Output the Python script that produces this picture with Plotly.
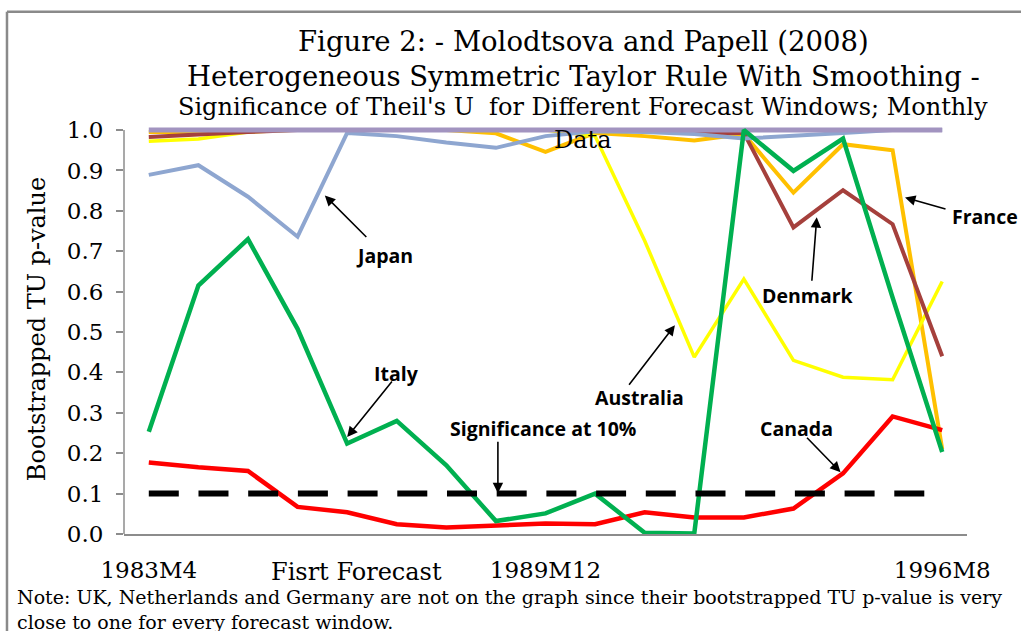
import plotly.graph_objects as go

categories = ["1983M4", "1984M2", "1984M12", "1985M10", "1986M8", "1987M6", "1988M4",
              "1989M2", "1989M12", "1990M10", "1991M8", "1992M6", "1993M4", "1994M2",
              "1994M12", "1995M10", "1996M8"]
tick_labels = ["1983M4", "1989M12", "1996M8"]

france = [0.995, 0.995, 1.0, 1.0, 1.0, 1.0, 1.0, 0.992, 0.946, 0.993, 0.985, 0.974,
          0.99, 0.845, 0.965, 0.950, 0.21]
australia = [0.972, 0.978, 0.995, 1.0, 1.0, 1.0, 1.0, 1.0, 1.0, 0.985, 0.726, 0.438,
             0.631, 0.43, 0.388, 0.382, 0.625]
denmark = [0.983, 0.99, 0.995, 1.0, 1.0, 1.0, 1.0, 1.0, 1.0, 1.0, 1.0, 0.993,
           0.993, 0.759, 0.851, 0.767, 0.44]
japan = [0.889, 0.913, 0.835, 0.736, 0.993, 0.985, 0.969, 0.956, 0.985, 0.997, 0.995,
         0.99, 0.979, 0.985, 0.993, 1.0, 1.0]
other = [1.0] * 17
canada = [0.177, 0.165, 0.156, 0.067, 0.054, 0.024, 0.016, 0.020, 0.026, 0.024, 0.054,
          0.041, 0.041, 0.063, 0.150, 0.291, 0.257]
italy = [0.253, 0.615, 0.730, 0.508, 0.224, 0.280, 0.170, 0.032, 0.051, 0.100, 0.003,
         0.001, 1.0, 0.899, 0.979, 0.585, 0.203]
significance = [0.1] * 17

SERIF = "DejaVu Serif"
SANS = "Open Sans"

series = [
    ("France", france, "#FFC000", 4),
    ("Australia", australia, "#FFFF00", 3.5),
    ("Denmark", denmark, "#A5403C", 4),
    ("Japan", japan, "#8EA6D0", 4),
    ("Other", other, "#A294C0", 5),
    ("Canada", canada, "#FF0000", 4.5),
    ("Italy", italy, "#00B050", 4.5),
]

fig = go.Figure()
for name, vals, color, w in series:
    fig.add_trace(go.Scatter(x=categories, y=vals, mode="lines", name=name,
                             line=dict(color=color, width=w)))
fig.add_trace(go.Scatter(x=categories, y=significance, mode="lines",
                         name="Significance at 10%",
                         line=dict(color="black", width=6, dash="30px,19.7px")))

# text labels (data coords: category index, value)
labels = [
    ("Japan", 4.76, 0.690),
    ("Italy", 5.0, 0.398),
    ("Significance at 10%", 7.95, 0.260),
    ("Australia", 9.90, 0.339),
    ("Canada", 13.07, 0.260),
    ("Denmark", 13.29, 0.591),
]
for t, x, y in labels:
    fig.add_annotation(x=x, y=y, xref="x", yref="y", text="<b>%s</b>" % t,
                       xanchor="center", yanchor="middle",
                       showarrow=False, font=dict(family=SANS, size=19.5, color="black"))
fig.add_annotation(x=1.021, y=0.775, xref="paper", yref="paper", text="<b>France</b>",
                   xanchor="center", yanchor="middle",
                   showarrow=False, font=dict(family=SANS, size=19.5, color="black"))

# arrows: head (x, y in data) and tail offsets in px
arrows = [
    (3.55, 0.838, 43, 43),
    (4.0, 0.240, 46, -57),
    (7.04, 0.101, 0, -53),
    (10.61, 0.517, -47, 61),
    (13.95, 0.153, -35, -36),
    (13.47, 0.784, -5, 65),
    (15.25, 0.833, 42, 12),
]
for x, y, ax, ay in arrows:
    fig.add_annotation(x=x, y=y, xref="x", yref="y", ax=ax, ay=ay, text="",
                       showarrow=True, arrowhead=2, arrowsize=1.3, arrowwidth=1.6,
                       arrowcolor="black")

def paper_text(text, x, y, size, **kw):
    fig.add_annotation(x=x, y=y, xref="paper", yref="paper", showarrow=False,
                       text=text, xanchor=kw.get("xanchor", "center"),
                       yanchor=kw.get("yanchor", "middle"), align=kw.get("align", "center"),
                       font=dict(family=SERIF, size=size, color="black"))

# titles
paper_text("Figure 2: - Molodtsova and Papell (2008)", 0.5445, 1.203, 27.5)
paper_text("Heterogeneous Symmetric Taylor Rule With Smoothing -", 0.5445, 1.116, 27.5)
paper_text("Significance of Theil's U  for Different Forecast Windows; Monthly",
           0.5445, 1.042, 24)
paper_text("Data", 0.5445, 0.960, 24)

# x-axis title
paper_text("Fisrt Forecast", 0.276, -0.0926, 24)

# note
paper_text("Note: UK, Netherlands and Germany are not on the graph since their "
           "bootstrapped TU p-value is very<br>close to one for every forecast window.",
           -0.1293, -0.121, 19, xanchor="left", yanchor="top", align="left")

# y axis line up to 1.0 and chart frame
fig.add_shape(type="line", xref="paper", yref="y", x0=0, x1=0, y0=0, y1=1.0,
              line=dict(color="#8C8C8C", width=1.5))
fig.add_shape(type="line", xref="paper", yref="paper", x0=-0.1388, x1=-0.1388,
              y0=-0.3, y1=1.274, line=dict(color="#8A8A8A", width=2.5))
fig.add_shape(type="line", xref="paper", yref="paper", x0=-0.1388, x1=1.1,
              y0=1.274, y1=1.274, line=dict(color="#8A8A8A", width=2.5))

fig.update_layout(
    width=1021, height=631,
    margin=dict(l=124, r=54, t=123.5, b=97),
    paper_bgcolor="white", plot_bgcolor="white",
    showlegend=False,
    xaxis=dict(type="category", tickvals=tick_labels, ticktext=tick_labels,
               showgrid=False, zeroline=False, showline=True, linecolor="#8C8C8C",
               linewidth=1.5, ticks="", ticklabelstandoff=15,
               tickfont=dict(family=SERIF, size=23, color="black"),
               range=[-0.5, 16.5]),
    yaxis=dict(range=[0, 1.015], tickvals=[0, 0.1, 0.2, 0.3, 0.4, 0.5, 0.6, 0.7, 0.8, 0.9, 1.0],
               tickformat=".1f", showgrid=False, zeroline=False, showline=False,
               ticks="outside", ticklen=7, tickcolor="#8C8C8C", tickwidth=1.5,
               ticklabelstandoff=8,
               tickfont=dict(family=SERIF, size=23, color="black"),
               title=dict(text="Bootstrapped TU p-value", standoff=14,
                          font=dict(family=SERIF, size=24, color="black"))),
)

fig.write_html("out.html", config={"displayModeBar": False},
               post_script="document.body.style.margin='0';")
